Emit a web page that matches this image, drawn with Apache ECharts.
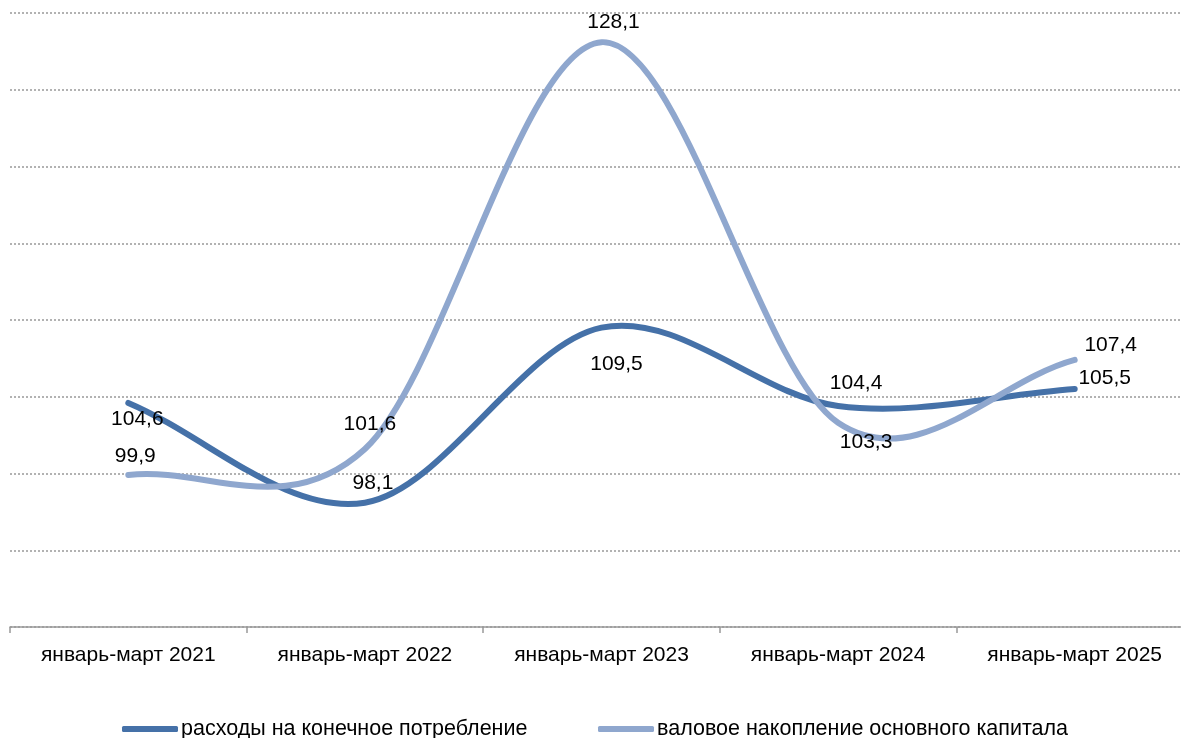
<!DOCTYPE html>
<html>
<head>
<meta charset="utf-8">
<script src="https://cdn.jsdelivr.net/npm/echarts@6/dist/echarts.min.js"></script>
<style>
html,body{margin:0;padding:0;background:#fff;overflow:hidden;width:1181px;height:738px;}
#c{width:1193px;height:738px;}
</style>
</head>
<body>
<div id="c"></div>
<script>
var categories = ['январь-март 2021','январь-март 2022','январь-март 2023','январь-март 2024','январь-март 2025'];
var seriesNames = ['расходы на конечное потребление','валовое накопление основного капитала'];
var consumption = [104.6, 98.1, 109.5, 104.4, 105.5];
var investment = [99.9, 101.6, 128.1, 103.3, 107.4];

var FONT = 'Liberation Sans, Arial, sans-serif';
var FS = 21;
var colors = ['#4571A8', '#8FA7CE'];
// label offsets (layout only) relative to each point
var offsConsumption = [[9,16],[8,-19],[15,37],[18,-23],[30,-11]];
var offsInvestment = [[7,-19],[5,-25],[12,-20],[28,19],[36,-15]];

function fmt(v){ return v.toFixed(1).replace('.', ','); }

// Excel-like smoothed curve (Catmull-Rom Bezier) through points given by the axes
function smoothPath(pts){
  var n = pts.length, d = 'M' + pts[0][0] + ' ' + pts[0][1];
  for (var i = 0; i < n - 1; i++){
    var p0 = pts[i], p1 = pts[i+1];
    var pm = pts[i-1], pn = pts[i+2];
    var c1, c2;
    if (pm) c1 = [p0[0] + (p1[0]-pm[0])/6, p0[1] + (p1[1]-pm[1])/6];
    else c1 = [p0[0] + (p1[0]-p0[0])/3, p0[1] + (p1[1]-p0[1])/3];
    if (pn) c2 = [p1[0] - (pn[0]-p0[0])/6, p1[1] - (pn[1]-p0[1])/6];
    else c2 = [p1[0] - (p1[0]-p0[0])/3, p1[1] - (p1[1]-p0[1])/3];
    d += ' C' + c1[0] + ' ' + c1[1] + ' ' + c2[0] + ' ' + c2[1] + ' ' + p1[0] + ' ' + p1[1];
  }
  return d;
}

function curveSeries(vals, color){
  return {
    type: 'custom',
    z: 3,
    silent: true,
    clip: false,
    data: vals.map(function(v,i){ return [i, v]; }),
    encode: {x: 0, y: 1},
    renderItem: function(params, api){
      if (params.dataIndex !== 0) return null;
      var pts = vals.map(function(v,i){ return api.coord([i, v]); });
      return {
        type: 'path',
        shape: {pathData: smoothPath(pts)},
        style: {stroke: color, lineWidth: 6, fill: null, lineCap: 'round', lineJoin: 'round'}
      };
    },
    animation: false
  };
}

function labelSeries(name, vals, offs, color){
  return {
    name: name,
    type: 'line',
    z: 4,
    data: vals.map(function(v,i){ return {value: v, label: {offset: offs[i]}}; }),
    symbol: 'circle',
    symbolSize: 2,
    showSymbol: true,
    lineStyle: {width: 0, opacity: 0},
    itemStyle: {color: color},
    label: {
      show: true,
      position: 'inside',
      color: '#000',
      fontSize: FS,
      fontFamily: FONT,
      formatter: function(p){ return fmt(p.value); }
    },
    emphasis: {disabled: true},
    animation: false
  };
}

var chart = echarts.init(document.getElementById('c'), null, {renderer: 'canvas'});
chart.setOption({
  backgroundColor: '#fff',
  animation: false,
  grid: {left: 10, top: 13, right: 0, height: 614, containLabel: false},
  legend: [
    {data: [seriesNames[0]], left: 117, top: 713, icon: 'roundRect', itemWidth: 56, itemHeight: 6, itemGap: 0,
     textStyle: {fontSize: 21.5, fontFamily: FONT, color: '#000', padding: [0,0,0,-2]}},
    {data: [seriesNames[1]], left: 593, top: 713, icon: 'roundRect', itemWidth: 56, itemHeight: 6, itemGap: 0,
     textStyle: {fontSize: 21.5, fontFamily: FONT, color: '#000', padding: [0,0,0,-2]}}
  ],
  xAxis: {
    type: 'category',
    data: categories,
    boundaryGap: true,
    axisLine: {lineStyle: {color: '#999', width: 1.5}},
    axisTick: {show: true, length: 6, lineStyle: {color: '#999', width: 1.5}},
    axisLabel: {fontSize: FS, fontFamily: FONT, color: '#000', margin: 18},
    splitLine: {show: false}
  },
  yAxis: {
    type: 'value',
    min: 90, max: 130, interval: 5,
    axisLine: {show: false},
    axisTick: {show: false},
    axisLabel: {show: false},
    splitLine: {lineStyle: {color: '#999', type: [2,2], width: 1.5}}
  },
  series: [
    curveSeries(consumption, colors[0]),
    curveSeries(investment, colors[1]),
    labelSeries(seriesNames[0], consumption, offsConsumption, colors[0]),
    labelSeries(seriesNames[1], investment, offsInvestment, colors[1])
  ]
});
</script>
</body>
</html>
